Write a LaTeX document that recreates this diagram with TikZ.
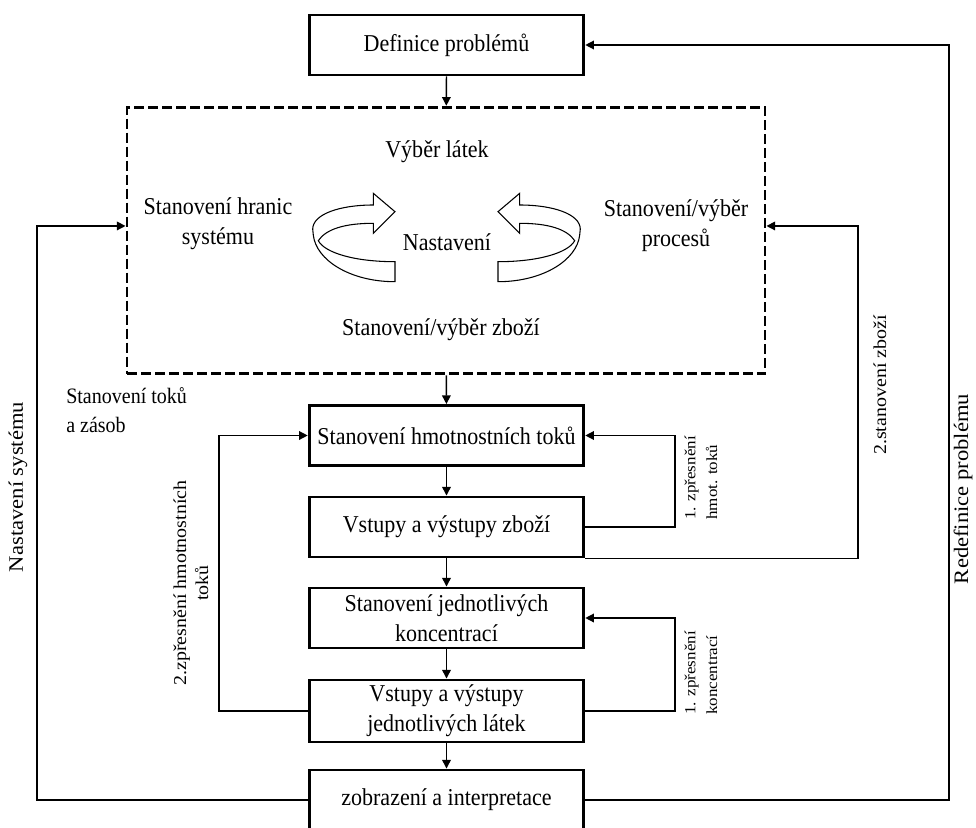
\documentclass[tikz,border=0pt]{standalone}
\usepackage{fontspec}
\setmainfont{Liberation Serif}[FakeStretch=0.91]
\newfontfamily\rotfont{Liberation Serif}[FakeStretch=1.1]
\usetikzlibrary{arrows.meta}

\begin{document}
\begin{tikzpicture}[x=0.75pt, y=-0.75pt,
  mainfont/.style={font=\fontsize{18.15pt}{22.5pt}\selectfont},
  stepbox/.style={draw, line width=2.2pt, minimum width=206pt, minimum height=45pt,
    inner sep=0pt, align=center, mainfont},
  lbl/.style={inner sep=0pt, align=center, mainfont},
  sidelbl/.style={inner sep=0pt, rotate=90, align=center, font=\rotfont\fontsize{15.4pt}{18pt}\selectfont},
  midlbl/.style={inner sep=0pt, rotate=90, align=center, font=\rotfont\fontsize{13.6pt}{16.5pt}\selectfont},
  smalllbl/.style={inner sep=0pt, rotate=90, align=left, anchor=west, font=\rotfont\fontsize{11.6pt}{16.3pt}\selectfont},
  link/.style={line width=1pt, -{Triangle[length=6.5pt,width=6.5pt]}},
  ring/.style={line width=0.8pt, line join=miter},
]
\useasboundingbox (0,0) rectangle (976,828);

% main chain of steps
\node[stepbox] (def) at (446.5,45) {Definice problémů};
\node[draw, line width=2.2pt, dash pattern=on 7.5pt off 3pt,
  minimum width=478.5pt, minimum height=200pt, inner sep=0pt] (setup) at (446,240.5) {};
\node[stepbox] (hmot) at (446.5,435.5) {Stanovení hmotnostních toků};
\node[stepbox] (vzbozi) at (446.5,527) {Vstupy a výstupy zboží};
\node[stepbox] (konc) at (446.5,618) {Stanovení jednotlivých\\koncentrací};
\node[stepbox, minimum height=46.5pt] (latky) at (446.5,711) {Vstupy a výstupy\\jednotlivých látek};
\node[stepbox] (zobr) at (446.5,800) {zobrazení a interpretace};

% contents of the set-up block
\node[lbl] (tVyber) at (437,152) {Výběr látek};
\node[lbl] (tHranic) at (218,224) {Stanovení hranic\\systému};
\node[lbl] (tNast) at (447,242) {Nastavení};
\node[lbl] (tProc) at (676,226) {Stanovení/výběr\\procesů};
\node[lbl] (tZbozi) at (441,330) {Stanovení/výběr zboží};

% ribbon arrows around "Nastavení"
\draw[ring] (373.3,205) .. controls (340,205) and (313,214) .. (312.7,229)
  -- (313.3,235)
  .. controls (316,260) and (350,281.7) .. (395,281.7)
  -- (395,261.7)
  .. controls (355,261.7) and (325,253) .. (318.3,240.7)
  .. controls (326,229) and (345,223.3) .. (373.3,223.3)
  -- (373.3,233.3) -- (395,211.7) -- (373.3,193.3) -- cycle;
\begin{scope}[shift={(893,0)}, xscale=-1]
\draw[ring] (373.3,205) .. controls (340,205) and (313,214) .. (312.7,229)
  -- (313.3,235)
  .. controls (316,260) and (350,281.7) .. (395,281.7)
  -- (395,261.7)
  .. controls (355,261.7) and (325,253) .. (318.3,240.7)
  .. controls (326,229) and (345,223.3) .. (373.3,223.3)
  -- (373.3,233.3) -- (395,211.7) -- (373.3,193.3) -- cycle;
\end{scope}

% side labels
\node[lbl, align=left, anchor=west, font=\fontsize{16.5pt}{21.5pt}\selectfont] (tToky) at (66,410) {Stanovení toků\\a zásob};
\node[sidelbl] (tNastSys) at (18,487) {Nastavení systému};
\node[sidelbl] (tRedef) at (963,489) {Redefinice problému};
\node[midlbl] (tStanZb) at (880,385) {2.stanovení zboží};
\node[midlbl] (tZpr2) at (191,583) {2.zpřesnění hmotnostních\\toků};
\node[smalllbl] (tZpr1a) at (701,520) {1. zpřesnění\\hmot. toků};
\node[smalllbl] (tZpr1b) at (701,715) {1. zpřesnění\\koncentrací};

% turning points of the feedback loops
\coordinate (rOuter) at (949,400);
\coordinate (lOuter) at (37,400);
\coordinate (rMid) at (858,400);
\coordinate (rLoopA) at (675,480);
\coordinate (rLoopB) at (675,660);
\coordinate (lLoop) at (219,580);

% forward arrows
\draw[link] (def) -- (setup);
\draw[link] (setup) -- (hmot);
\draw[link] (hmot) -- (vzbozi);
\draw[link] (vzbozi) -- (konc);
\draw[link] (konc) -- (latky);
\draw[link] (latky) -- (zobr);

% feedback loops
\draw[link] (zobr.east) -| (rOuter) |- (def.east);
\draw[link] (zobr.west) -| (lOuter) |- ([yshift=10.9pt]setup.west);
\draw[link] (vzbozi.south east) -| (rMid) |- ([yshift=10.9pt]setup.east);
\draw[link] (vzbozi.east) -| (rLoopA) |- (hmot.east);
\draw[link] (latky.east) -| (rLoopB) |- (konc.east);
\draw[link] (latky.west) -| (lLoop) |- (hmot.west);
\end{tikzpicture}
\end{document}
